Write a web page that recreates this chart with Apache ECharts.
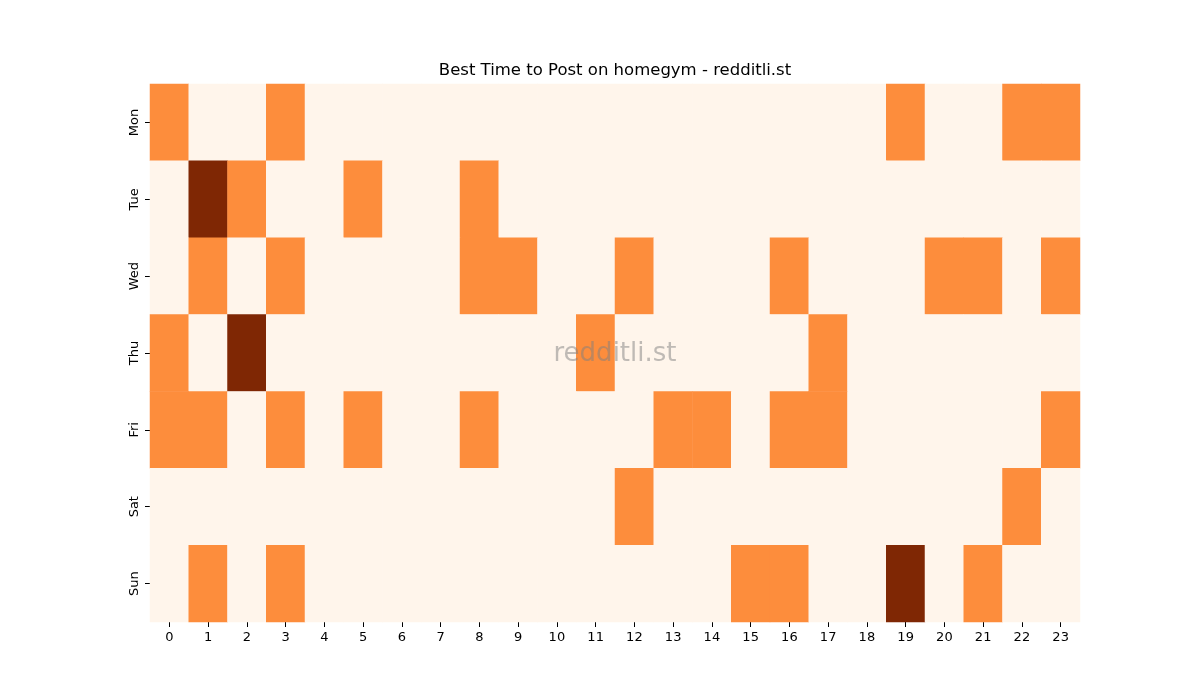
<!DOCTYPE html>
<html>
<head>
<meta charset="utf-8">
<script src="https://cdn.jsdelivr.net/npm/echarts@6/dist/echarts.min.js"></script>
<style>
  html, body { margin: 0; padding: 0; background: #fff; }
  #chart { width: 1200px; height: 700px; }
</style>
</head>
<body>
<div id="chart"></div>
<script>
const hours = Array.from({ length: 24 }, (_, i) => String(i));
const days = ['Mon', 'Tue', 'Wed', 'Thu', 'Fri', 'Sat', 'Sun'];

// one row per day, one value per hour (0 = none, 1 = some, 2 = most)
const mon = [1,0,0,1,0,0,0,0,0,0,0,0,0,0,0,0,0,0,0,1,0,0,1,1];
const tue = [0,2,1,0,0,1,0,0,1,0,0,0,0,0,0,0,0,0,0,0,0,0,0,0];
const wed = [0,1,0,1,0,0,0,0,1,1,0,0,1,0,0,0,1,0,0,0,1,1,0,1];
const thu = [1,0,2,0,0,0,0,0,0,0,0,1,0,0,0,0,0,1,0,0,0,0,0,0];
const fri = [1,1,0,1,0,1,0,0,1,0,0,0,0,1,1,0,1,1,0,0,0,0,0,1];
const sat = [0,0,0,0,0,0,0,0,0,0,0,0,1,0,0,0,0,0,0,0,0,0,1,0];
const sun = [0,1,0,1,0,0,0,0,0,0,0,0,0,0,0,1,1,0,0,2,0,1,0,0];
const rows = [mon, tue, wed, thu, fri, sat, sun];

const cells = [];
rows.forEach((row, d) => row.forEach((v, h) => cells.push([h, d, v])));

const chart = echarts.init(document.getElementById('chart'));
const font = 'DejaVu Sans, sans-serif';

chart.setOption({
  backgroundColor: '#fff',
  animation: false,
  grid: { left: 150, right: 120, top: 84, bottom: 78 },
  xAxis: {
    type: 'category',
    data: hours,
    axisLine: { show: false },
    axisTick: { show: true, alignWithLabel: true, length: 5, lineStyle: { color: '#000' } },
    axisLabel: { fontFamily: font, fontSize: 13, color: '#000', margin: 9 },
    splitLine: { show: false }
  },
  yAxis: {
    type: 'category',
    data: days,
    inverse: true,
    axisLine: { show: false },
    axisTick: { show: true, alignWithLabel: true, length: 5, lineStyle: { color: '#000' } },
    axisLabel: { fontFamily: font, fontSize: 13, color: '#000', rotate: 90, margin: 9 },
    splitLine: { show: false }
  },
  visualMap: {
    type: 'piecewise',
    show: false,
    dimension: 2,
    pieces: [
      { value: 0, color: '#fff5eb' },
      { value: 1, color: '#fd8d3c' },
      { value: 2, color: '#7f2704' }
    ]
  },
  series: [{
    type: 'heatmap',
    data: cells,
    itemStyle: { borderWidth: 0 },
    emphasis: { disabled: true }
  }],
  graphic: [{
    type: 'text',
    x: 615,
    y: 71,
    style: {
      text: 'Best Time to Post on homegym - redditli.st',
      fontFamily: font,
      fontSize: 16.5,
      fill: '#000',
      align: 'center',
      verticalAlign: 'middle'
    }
  }, {
    type: 'text',
    x: 615,
    y: 354,
    style: {
      text: 'redditli.st',
      fontFamily: font,
      fontSize: 26,
      fill: 'rgba(128,128,128,0.5)',
      align: 'center',
      verticalAlign: 'middle'
    },
    z: 100
  }]
});
</script>
</body>
</html>
